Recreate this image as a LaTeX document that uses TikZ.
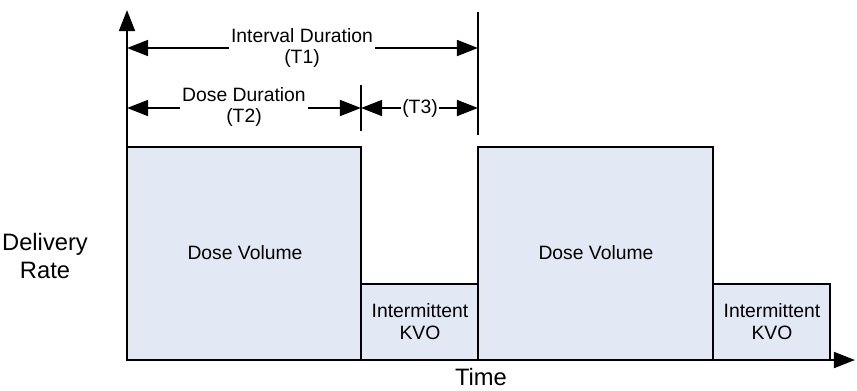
\documentclass[tikz,border=0pt]{standalone}
\usepackage{fontspec}
\setmainfont{Liberation Sans}
\usetikzlibrary{arrows.meta}
\definecolor{dosefill}{HTML}{E3E9F4}
\tikzset{
  bar/.style={draw=black,line width=1.3pt,fill=dosefill},
  axis/.style={line width=1.4pt,-{Triangle[length=12pt,width=9pt]}},
  dim/.style={line width=1.3pt,{Triangle[length=12pt,width=9pt]}-{Triangle[length=12pt,width=9pt]}},
  tick/.style={line width=1.3pt},
  dimlabel/.style={fill=white,inner sep=1pt,align=center,font=\fontsize{11}{12.5}\selectfont},
  barlabel/.style={align=center,font=\fontsize{11}{12.5}\selectfont},
  axislabel/.style={align=center,font=\fontsize{13.5}{15.5}\selectfont}
}
\begin{document}
\begin{tikzpicture}[x=0.02cm,y=-0.02cm,line cap=butt,line join=miter]
  \useasboundingbox (0,0) rectangle (857,390);
  % bars
  \draw[bar] (127,147) rectangle (361,360);
  \draw[bar] (361,284) rectangle (478,360);
  \draw[bar] (478,147) rectangle (713,360);
  \draw[bar] (713,284) rectangle (830,360);
  \node[barlabel] (dose1) at (245,253) {Dose Volume};
  \node[barlabel] (kvo1) at (420,322) {Intermittent\\KVO};
  \node[barlabel] (dose2) at (596,253) {Dose Volume};
  \node[barlabel] (kvo2) at (772,322) {Intermittent\\KVO};
  % axes
  \coordinate (O) at (127,360);
  \coordinate (ytop) at (127,10);
  \coordinate (xend) at (855,360);
  \draw[axis] (O) -- (ytop);
  \draw[axis] (O) -- (xend);
  \node[axislabel] (rate) at (45,256) {Delivery\\Rate};
  \node[axislabel] (time) at (481,377) {Time};
  % ticks
  \coordinate (tA) at (361,85);
  \coordinate (tB) at (361,131);
  \coordinate (tC) at (478,12);
  \coordinate (tD) at (478,135);
  \draw[tick] (tA) -- (tB);
  \draw[tick] (tC) -- (tD);
  % durations
  \coordinate (t1l) at (127,48);
  \coordinate (t1r) at (478,48);
  \coordinate (t2l) at (127,108);
  \coordinate (t2r) at (361,108);
  \coordinate (t3r) at (478,108);
  \draw[dim] (t1l) -- (t1r);
  \draw[dim] (t2l) -- (t2r);
  \draw[dim] (t2r) -- (t3r);
  \node[dimlabel] (t1) at (302,48) {Interval Duration\\(T1)};
  \node[dimlabel] (t2) at (244,107) {Dose Duration\\(T2)};
  \node[dimlabel] (t3) at (420,108) {(T3)};
\end{tikzpicture}
\end{document}
